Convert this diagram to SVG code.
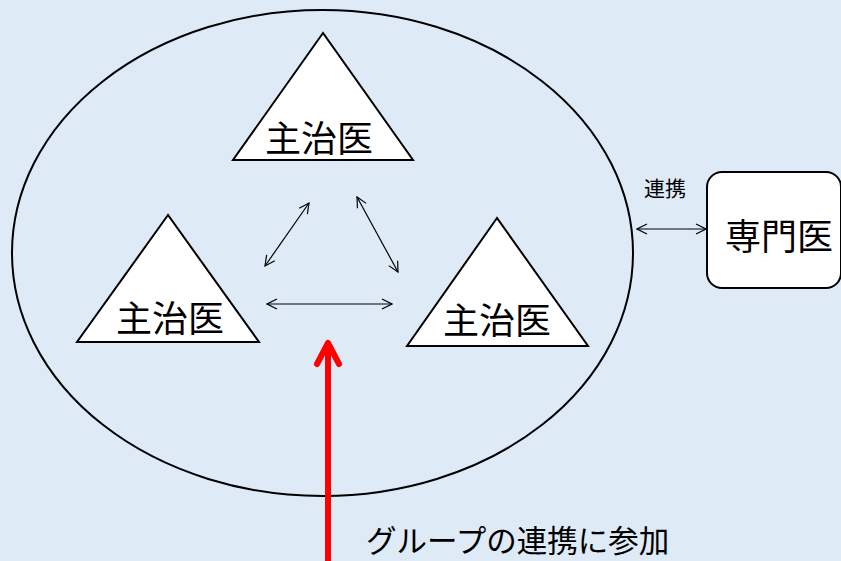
<svg xmlns="http://www.w3.org/2000/svg" width="841" height="561" viewBox="0 0 841 561">
<style>
.shape{fill:#fff;stroke:#000;stroke-width:2}
.lbl{font-family:"Noto Sans CJK JP","Liberation Sans",sans-serif;fill:#000}
.conn{stroke:#000;stroke-width:1.2;fill:none;marker-start:url(#ah);marker-end:url(#ah)}
</style>
<defs>
<marker id="ah" viewBox="0 0 12 12" refX="11" refY="6" markerWidth="12" markerHeight="12" markerUnits="userSpaceOnUse" orient="auto-start-reverse">
<path d="M1,1 L11,6 L1,11" fill="none" stroke="#000" stroke-width="1.2"/>
</marker>
</defs>
<rect width="841" height="561" fill="#DEEAF6"/>
<g id="group">
<ellipse cx="322.5" cy="253" rx="310.5" ry="243" fill="none" stroke="#000" stroke-width="2"/>
</g>
<g id="doctor-top">
<polygon class="shape" points="323,33 233,160 413,160"/>
<text class="lbl" x="319" y="152" font-size="36" text-anchor="middle">主治医</text>
</g>
<g id="doctor-left">
<polygon class="shape" points="168,215 77,342 259,342"/>
<text class="lbl" x="170" y="332" font-size="36" text-anchor="middle">主治医</text>
</g>
<g id="doctor-right">
<polygon class="shape" points="497,218 407,346 588,346"/>
<text class="lbl" x="497" y="334" font-size="36" text-anchor="middle">主治医</text>
</g>
<g id="specialist">
<rect class="shape" x="707" y="172" width="134" height="116" rx="15"/>
<text class="lbl" x="779" y="250" font-size="36" text-anchor="middle">専門医</text>
</g>
<g id="connectors">
<line class="conn" x1="265" y1="266" x2="309" y2="203"/>
<line class="conn" x1="357" y1="197" x2="398" y2="272"/>
<line class="conn" x1="267" y1="304" x2="392" y2="304"/>
<line class="conn" x1="637" y1="229" x2="706" y2="229"/>
<text class="lbl" x="665" y="196" font-size="21" text-anchor="middle">連携</text>
<line x1="328" y1="561" x2="328" y2="344" stroke="#FF0000" stroke-width="6"/>
<path d="M317,364 L328,343 L339,364" fill="none" stroke="#FF0000" stroke-width="6" stroke-linecap="round" stroke-linejoin="round"/>
<text class="lbl" x="366" y="552" font-size="30.5">グループの連携に参加</text>
</g>
</svg>
